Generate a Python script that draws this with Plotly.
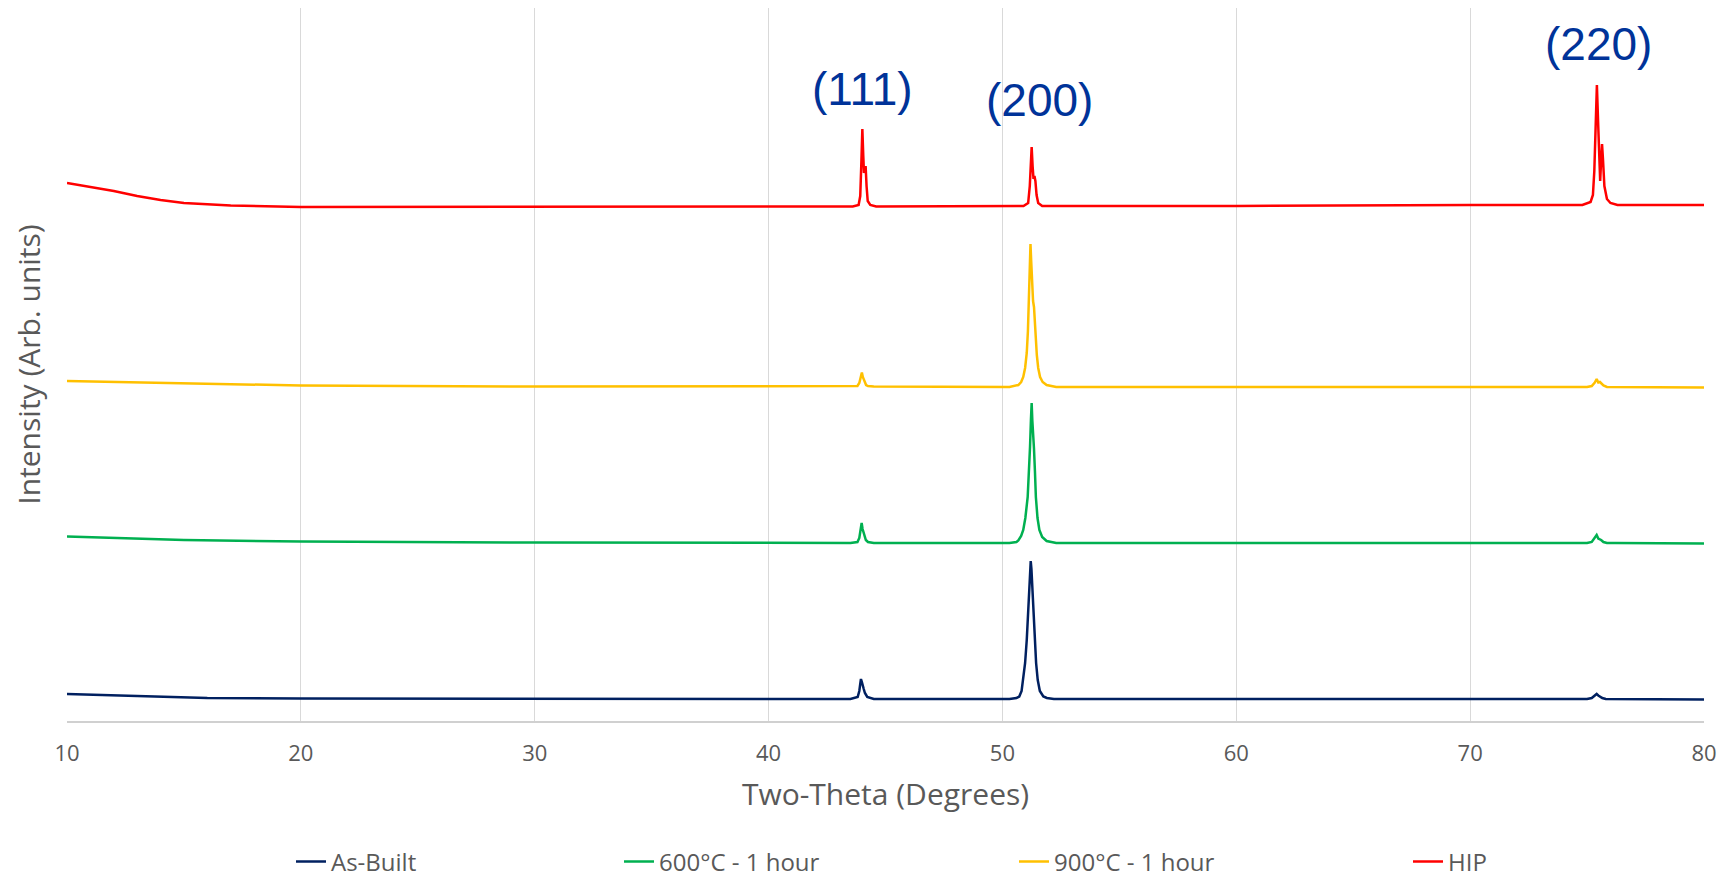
import plotly.graph_objects as go

# ---------------- data ----------------
# Two-theta positions (degrees) and intensities (arb. units, offset stacked)
as_built_x = [10, 12, 14, 16, 20, 30, 43.5, 43.81, 43.88, 43.92, 43.95, 43.99, 44.03, 44.07, 44.12, 44.22, 44.5,
              50.3, 50.6, 50.72, 50.82, 50.89, 50.97, 51.04, 51.1, 51.15, 51.19, 51.21, 51.24, 51.29, 51.33,
              51.38, 51.44, 51.51, 51.6, 51.75, 51.9, 52.2, 60, 75.0, 75.2, 75.33, 75.41, 75.48, 75.55,
              75.65, 75.8, 76.2, 80]
as_built_y = [27, 25.5, 24, 23, 22.5, 22, 22, 24, 30, 37, 42, 39, 34, 32, 28, 24, 22,
              22, 23, 24.5, 30, 41, 58, 81, 106, 131, 152, 160, 152, 131, 106,
              81, 58, 41, 30, 24.5, 23, 22, 22, 22, 23, 25.5, 27, 25.5, 24.5,
              23, 22, 22, 21.5]

t600_x = [10, 12, 15, 20, 30, 43.5, 43.8, 43.88, 43.94, 43.98, 44.02, 44.06, 44.1, 44.16, 44.25, 44.5,
          50.3, 50.6, 50.68, 50.8, 50.89, 50.98, 51.08, 51.14, 51.18, 51.22, 51.25, 51.28, 51.31, 51.35,
          51.39, 51.43, 51.5, 51.58, 51.7, 51.89, 52.3, 60, 75.0, 75.2, 75.33, 75.41, 75.48, 75.55,
          75.6, 75.7, 75.85, 76.2, 80]
t600_y = [184.5, 183, 181, 179.5, 178.5, 178, 179, 183, 192, 198, 192, 189, 186, 181, 179, 178,
          178, 179, 180.5, 185, 191, 203, 224, 250, 274, 302, 318, 300, 280, 272,
          250, 224, 203, 191, 184, 180, 178, 178, 178, 179, 183, 186, 182.5, 182,
          181, 179, 178, 178, 177.5]

t900_x = [10, 12, 15, 20, 30, 43.5, 43.8, 43.88, 43.94, 43.99, 44.03, 44.07, 44.11, 44.17, 44.25, 44.5,
          50.3, 50.6, 50.68, 50.8, 50.89, 50.97, 51.04, 51.09, 51.12, 51.16, 51.2, 51.23, 51.27, 51.31,
          51.35, 51.39, 51.43, 51.47, 51.53, 51.61, 51.72, 51.89, 52.3, 60, 75.0, 75.2, 75.33, 75.41,
          75.48, 75.55, 75.6, 75.7, 75.85, 76.2, 80]
t900_y = [340, 339, 337.5, 335.5, 334.5, 334.5, 335, 338, 345, 348.5, 344, 342, 340, 336, 335, 334.5,
          334, 335, 336, 339, 344, 353, 368, 390, 418, 455, 477, 460, 430, 420,
          414, 395, 375, 366, 353, 344, 339, 336, 334, 334, 334, 335, 338.5, 342,
          338.5, 339, 337.7, 335.5, 334, 334, 333.5]

hip_x = [10, 11, 12, 13, 14, 15, 17, 20, 30, 43.6, 43.85, 43.92, 43.97, 44.01, 44.05, 44.08, 44.12,
         44.15, 44.19, 44.24, 44.35, 44.6, 50.9, 51.1, 51.17, 51.21, 51.25, 51.29, 51.33, 51.37, 51.41,
         51.46, 51.53, 51.7, 60, 70, 74.8, 75.15, 75.25, 75.31, 75.36, 75.42, 75.47, 75.52, 75.56,
         75.6, 75.64, 75.68, 75.74, 75.85, 76.0, 76.3, 80]
hip_y = [538, 534, 530, 525, 521, 518, 515.5, 514, 514, 514.5, 516, 525, 560, 592, 565, 548, 552,
         555, 535, 520, 516, 514.5, 515, 518, 535, 558, 574, 555, 542, 545, 540,
         526, 518, 515, 515, 516, 516, 519, 526, 550, 600, 636, 600, 550, 540,
         560, 577, 562, 535, 522, 518, 516, 516]

series_names = ["As-Built", "600°C - 1 hour", "900°C - 1 hour", "HIP"]
series_colors = ["#002060", "#00B050", "#FFC000", "#FF0000"]

peak_labels = ["(111)", "(200)", "(220)"]
peak_label_x = [44.0, 51.6, 75.5]
peak_label_y = [632, 621, 677]

x_ticks = [10, 20, 30, 40, 50, 60, 70, 80]

# ---------------- figure ----------------
# page body has an 8px default margin, so the figure is sized to fit the window
OFF = 8
W, H = 1731 - OFF, 880 - OFF
ml, mr, mt, mb = 67 - OFF, 27, 0, 159
plot_w = W - ml - mr
plot_h = H - mt - mb

fig = go.Figure()
series = [(as_built_x, as_built_y), (t600_x, t600_y), (t900_x, t900_y), (hip_x, hip_y)]
legend_ids = ["legend", "legend2", "legend3", "legend4"]
for (xs, ys), name, col, lg in zip(series, series_names, series_colors, legend_ids):
    fig.add_trace(go.Scatter(x=xs, y=ys, mode="lines", name=name,
                             line=dict(color=col, width=2.5), legend=lg))

txt_col = "#595959"
legend_left_px = [291, 619, 1014, 1408]   # page px of each legend box's left edge
legend_center_px = 862                    # page px of legend centre
leg_common = dict(orientation="h", yanchor="middle", xanchor="left",
                  xref="container", yref="container",
                  font=dict(family="Open Sans", size=24, color=txt_col),
                  bgcolor="rgba(0,0,0,0)", borderwidth=0)
lay = {}
for lg, px in zip(legend_ids, legend_left_px):
    lay[lg] = dict(x=(px - OFF) / W, y=1 - (legend_center_px - OFF) / H, **leg_common)

for lab, lx, ly in zip(peak_labels, peak_label_x, peak_label_y):
    fig.add_annotation(x=lx, y=ly, xref="x", yref="y", text=lab, showarrow=False,
                       font=dict(family="Liberation Sans", size=46, color="#003399"))

fig.update_layout(
    width=W, height=H,
    margin=dict(l=ml, r=mr, t=mt, b=mb, autoexpand=False),
    paper_bgcolor="white", plot_bgcolor="white",
    showlegend=True,
    **lay,
)
fig.update_xaxes(range=[10, 80], tickvals=x_ticks, ticktext=[str(v) for v in x_ticks],
                 showgrid=True, gridcolor="#d9d9d9", gridwidth=1,
                 showline=True, linecolor="#d0d0d0", linewidth=1.5,
                 zeroline=False, ticks="", ticklabelstandoff=12,
                 tickfont=dict(family="Open Sans", size=22, color=txt_col),
                 title=dict(text="Two-Theta (Degrees)", standoff=18,
                            font=dict(family="Open Sans", size=30, color=txt_col)))
fig.update_yaxes(range=[0, 713], showgrid=False, zeroline=False, showticklabels=False,
                 showline=False, ticks="",
                 title=dict(text="Intensity (Arb. units)", standoff=33,
                            font=dict(family="Open Sans", size=30, color=txt_col)))

fig.write_html("out.html")
